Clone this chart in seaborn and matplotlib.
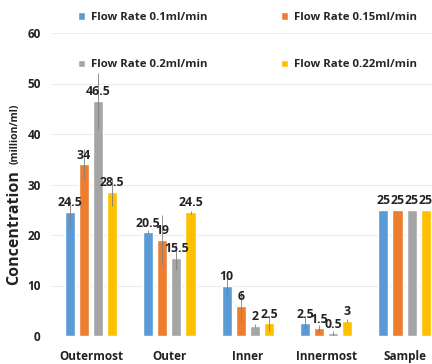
import matplotlib
matplotlib.use("Agg")
import matplotlib.pyplot as plt
import seaborn as sns
import pandas as pd
import numpy as np

# Channel positions and flow-rate series
regions = ["Outermost", "Outer", "Inner", "Innermost", "Sample"]
flow_rates = ["Flow Rate 0.1ml/min", "Flow Rate 0.15ml/min",
              "Flow Rate 0.2ml/min", "Flow Rate 0.22ml/min"]

conc_01 = [24.5, 20.5, 10, 2.5, 25]
conc_015 = [34, 19, 6, 1.5, 25]
conc_02 = [46.5, 15.5, 2, 0.5, 25]
conc_022 = [28.5, 24.5, 2.5, 3, 25]

err_01 = [2.8, 0.4, 2.3, 1.2, 0]
err_015 = [3.0, 5.0, 3.0, 0.7, 0]
err_02 = [5.5, 2.5, 0.3, 0.5, 0]
err_022 = [2.7, 0.3, 1.5, 0.3, 0]

yticks = [0, 10, 20, 30, 40, 50, 60]
colors = ["#5B9BD5", "#ED7D31", "#A5A5A5", "#FFC000"]

values = [conc_01, conc_015, conc_02, conc_022]
errors = [err_01, err_015, err_02, err_022]

df = pd.DataFrame({
    "region": regions * 4,
    "flow": np.repeat(flow_rates, len(regions)),
    "conc": sum(values, []),
    "err": sum(errors, []),
})

sns.set_style("white")
plt.rcParams["font.family"] = ["Open Sans", "DejaVu Sans"]

fig = plt.figure(figsize=(4.32, 3.64), dpi=100)
W, H = 432, 364
left_px, right_px = 51.75, 432
top_px, bottom_px = 33, 336
ax = fig.add_axes([left_px / W, 1 - bottom_px / H,
                   (right_px - left_px) / W, (bottom_px - top_px) / H])

sns.barplot(data=df, x="region", y="conc", hue="flow", order=regions,
            hue_order=flow_rates, palette=colors, width=0.72, gap=0.28,
            errorbar=None, saturation=1, ax=ax, legend=True)

# error bars and value labels on each bar
bar_groups = list(ax.containers)
for ci, cont in enumerate(bar_groups):
    xs = [p.get_x() + p.get_width() / 2 for p in cont.patches]
    ys = values[ci]
    es = errors[ci]
    for x, y, e in zip(xs, ys, es):
        if e > 0:
            ax.errorbar(x, y, yerr=e, fmt="none", ecolor="#7f7f7f",
                        elinewidth=0.6, capsize=0, zorder=3)
    ax.bar_label(cont, labels=[f"{v:g}" for v in ys], padding=2,
                 fontsize=8.8, fontweight="bold", color="#222222")

ax.set_xlim(-0.5, 4.35)
ax.set_ylim(0, 60)
ax.set_yticks(yticks)
ax.set_yticklabels([str(t) for t in yticks], fontsize=8.5, fontweight="bold",
                   color="#222222")
ax.set_xticks(range(len(regions)))
ax.set_xticklabels(regions, fontsize=8.5, fontweight="bold", color="#222222")
ax.tick_params(axis="x", length=0, pad=10)
ax.tick_params(axis="y", length=0, pad=8)
ax.yaxis.grid(True, color="#ececec", linewidth=0.8)
ax.set_axisbelow(True)
for s in ax.spines.values():
    s.set_visible(False)
ax.set_xlabel("")
ax.set_ylabel("")

fig.text(14 / W, 1 - 228 / H, "Concentration", rotation=90, ha="center",
         va="center", fontsize=11.5, fontweight="bold", color="#222222")
fig.text(15 / W, 1 - 134 / H, "(million/ml)", rotation=90, ha="center",
         va="center", fontsize=7.5, fontweight="bold", color="#222222")

handles, labels = ax.get_legend_handles_labels()
ax.get_legend().remove()
# legend laid out row by row: 0.1 | 0.15 on top, 0.2 | 0.22 below
order = [0, 2, 1, 3]
fig.legend([handles[i] for i in order], [labels[i] for i in order],
           loc="upper left", bbox_to_anchor=(78 / W, 1 - 12 / H), ncol=2,
           frameon=False, prop={"weight": "bold", "size": 8.2},
           handlelength=0.65, handleheight=0.65, handletextpad=0.45,
           labelspacing=3.2, columnspacing=6.5, borderpad=0,
           borderaxespad=0)

fig.savefig("out.png", dpi=100)
